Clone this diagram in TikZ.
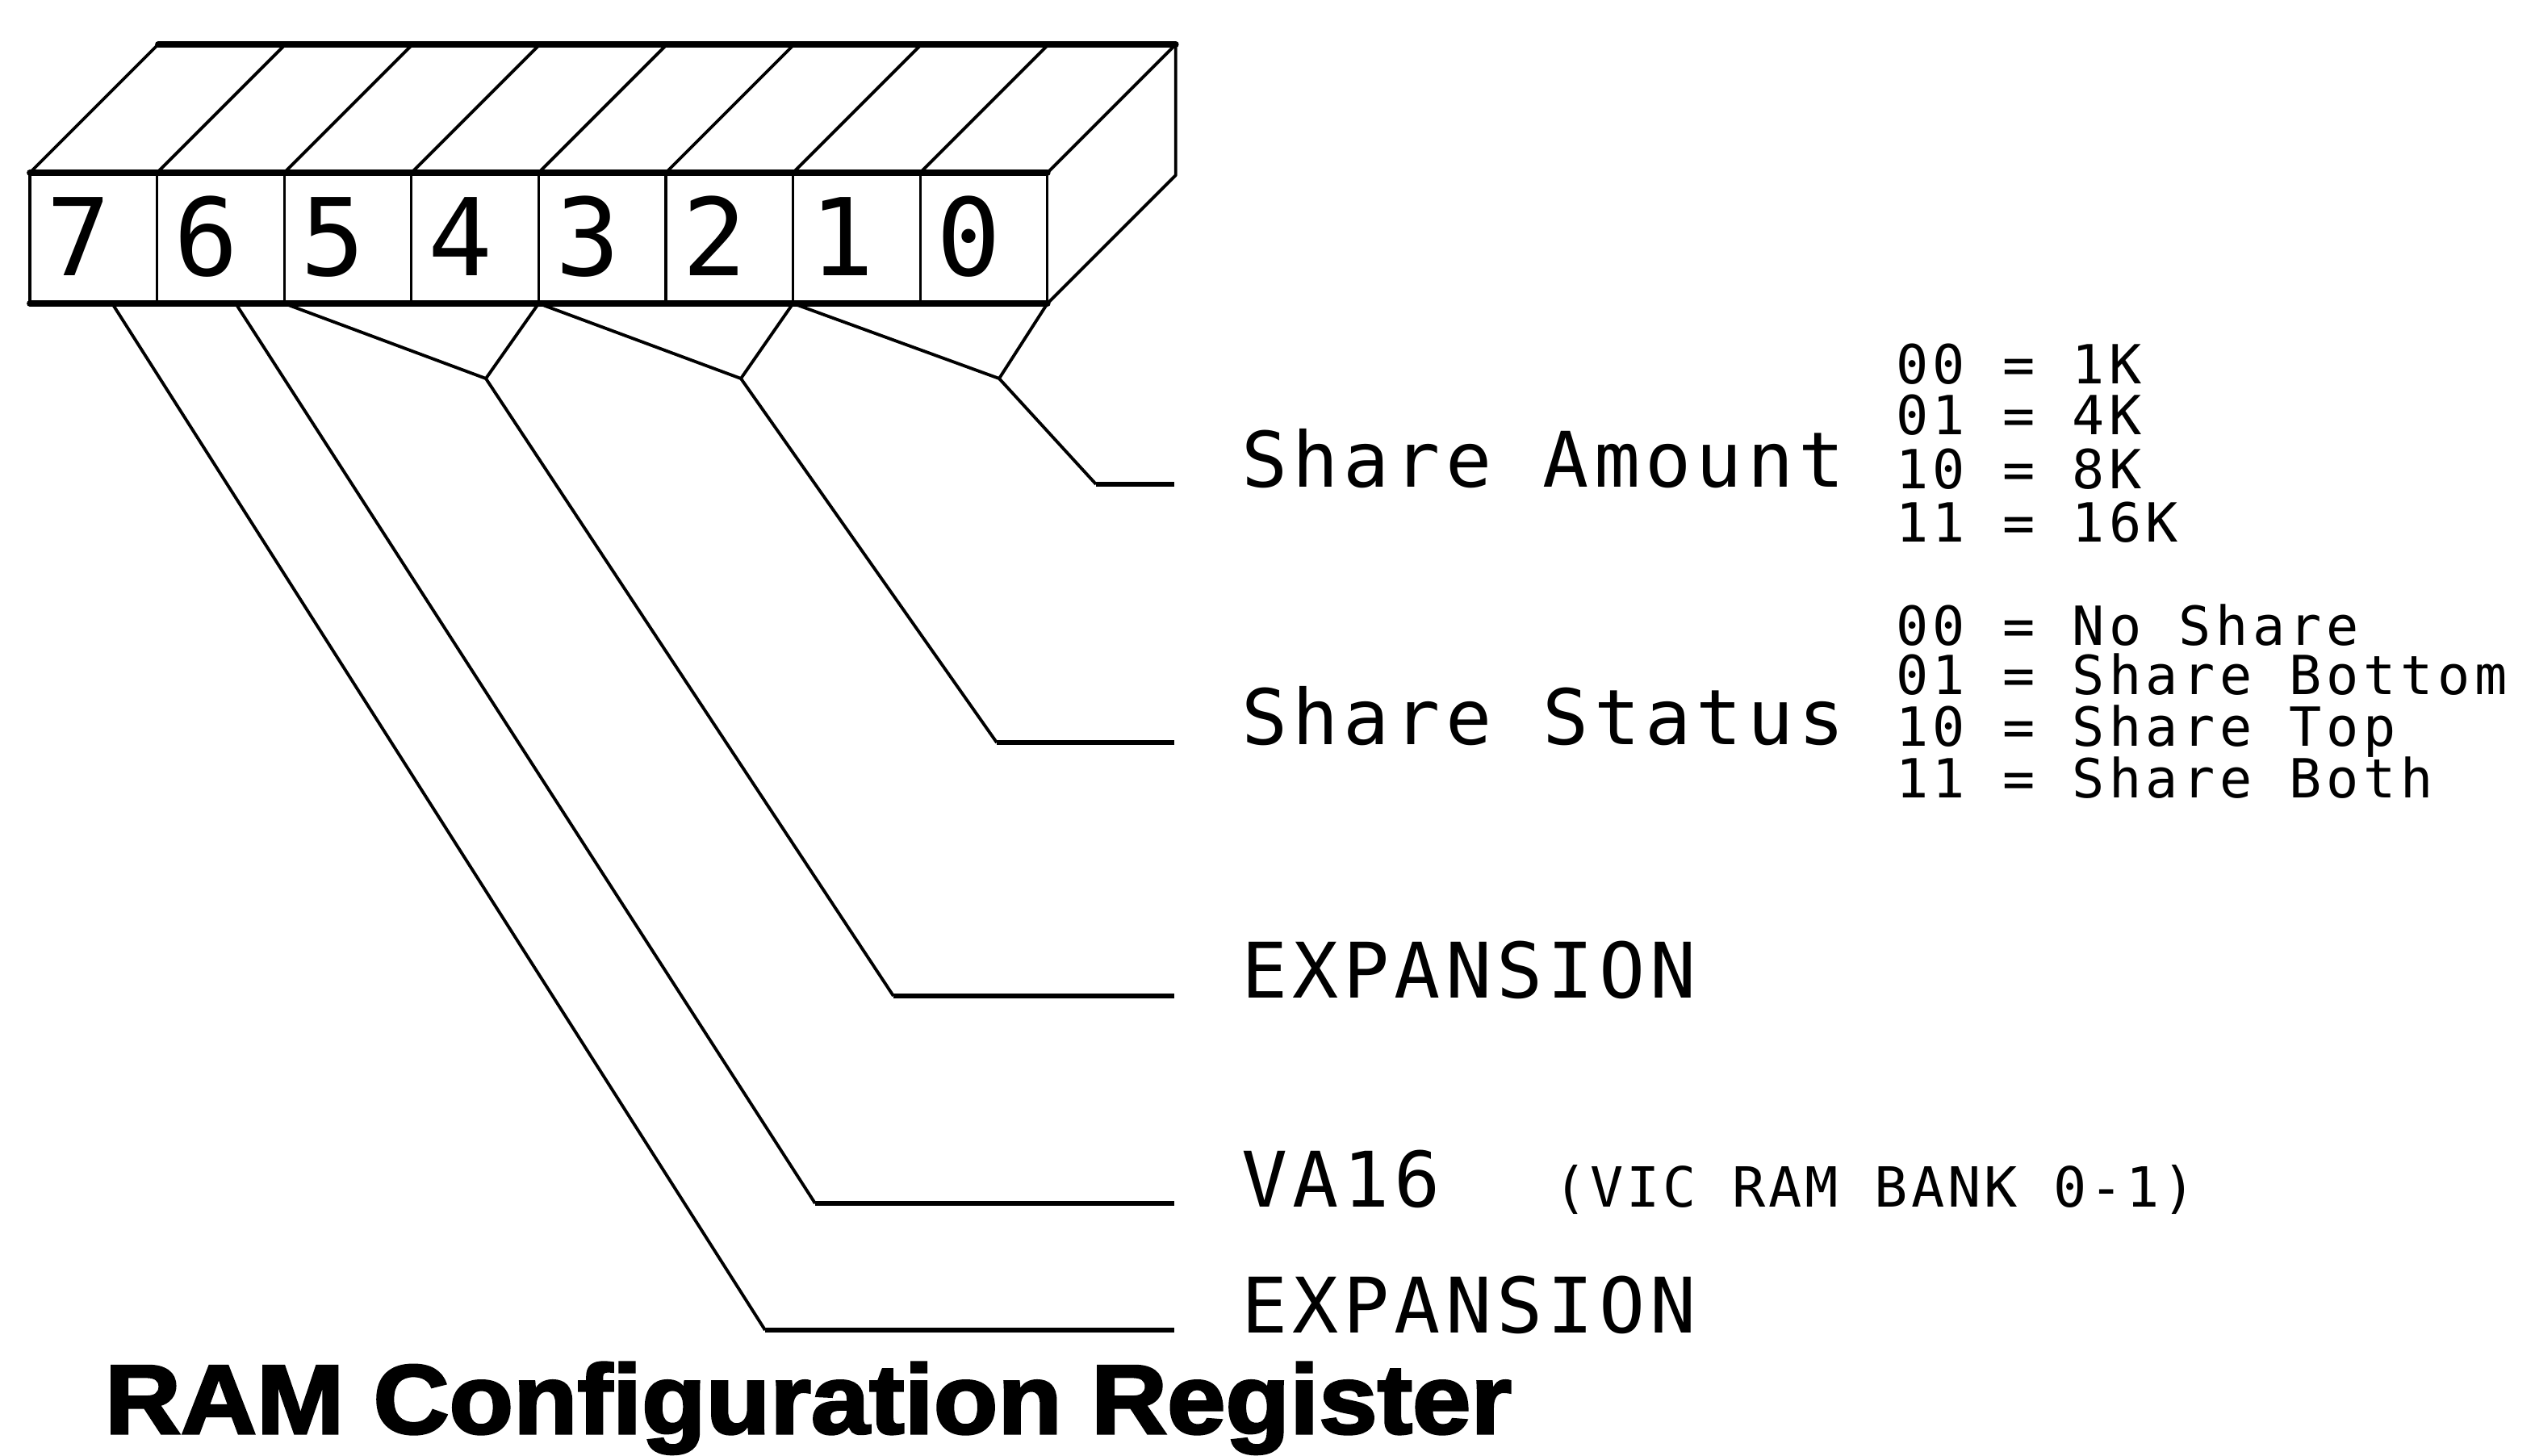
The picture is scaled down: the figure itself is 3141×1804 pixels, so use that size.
\documentclass[tikz,border=0pt]{standalone}
\usepackage{fontspec}
\newfontfamily\plotbig[LetterSpace=6.5]{DejaVu Sans Mono}
\newfontfamily\plotdig{DejaVu Sans Mono}
\newfontfamily\plotsmall[LetterSpace=8.5]{DejaVu Sans Mono}
\newfontfamily\plotvic[LetterSpace=5.5]{DejaVu Sans Mono}
\newfontfamily\titlefont[FakeBold=2.5]{Liberation Sans Bold}
\begin{document}
\begin{tikzpicture}[x=0.01cm,y=-0.01cm,
  every node/.style={inner sep=0pt,outer sep=0pt},
  edge/.style={line width=1.1pt,line cap=round,line join=round},
  vline/.style={line width=0.9pt},
  hedge/.style={line width=2.2pt,line cap=round},
  lead/.style={line width=1.1pt,line join=miter},
  hlead/.style={line width=1.6pt},
  big/.style={font=\plotbig\fontsize{27}{27}\selectfont,anchor=base west},
  small/.style={font=\plotsmall\fontsize{19}{19}\selectfont,anchor=base west},
  vic/.style={font=\plotvic\fontsize{19.5}{19.5}\selectfont,anchor=base west},
  digit/.style={font=\plotdig\fontsize{37.8}{37.8}\selectfont,anchor=base},
  titlestyle/.style={font=\titlefont\fontsize{34.6}{34.6}\selectfont,anchor=base west,xscale=1.07}
]
\useasboundingbox (0,0) rectangle (3141,1804);

% register box corners
\foreach \k in {0,...,8}{
  \coordinate (t\k) at ({37+157.6*\k},214);
  \coordinate (b\k) at ({37+157.6*\k},376);
  \coordinate (u\k) at ({196+157.6*\k},55);
}
\coordinate (ur) at (1456.8,217);

% top face and slanted edges
\draw[hedge] (u0) -- (u8);
\foreach \k in {0,...,8}{ \draw[edge] (t\k) -- (u\k); }
% front face
\draw[hedge] (t0) -- (t8);
\draw[hedge] (b0) -- (b8);
\foreach \k in {0,...,8}{ \draw[vline] (t\k) -- (b\k); }
% right face
\draw[edge] (u8) -- (ur) -- (b8);

% bit numbers
\foreach \d/\k in {7/0,6/1,5/2,4/3,3/4,2/5,1/6,0/7}{
  \node[digit] (d\d) at ({37+157.6*\k+78.8-18},342) {\d};
}

% leader points
\coordinate (s7) at (139,376);
\coordinate (s6) at (292,376);
\coordinate (j54) at (602,469);
\coordinate (j32) at (918,469);
\coordinate (j10) at (1238,469);
\coordinate (k7) at (948,1648);
\coordinate (k6) at (1010,1491);
\coordinate (k54) at (1107,1234);
\coordinate (k32) at (1235,920);
\coordinate (k10) at (1358,600);
\coordinate (e7) at (1455,1648);
\coordinate (e6) at (1455,1491);
\coordinate (e54) at (1455,1234);
\coordinate (e32) at (1455,920);
\coordinate (e10) at (1455,600);

\draw[lead] (s7) -- (k7);
\draw[hlead] (k7) -- (e7);
\draw[lead] (s6) -- (k6);
\draw[hlead] (k6) -- (e6);
\draw[lead] (b2) -- (j54) -- (b4);
\draw[lead] (j54) -- (k54);
\draw[hlead] (k54) -- (e54);
\draw[lead] (b4) -- (j32) -- (b6);
\draw[lead] (j32) -- (k32);
\draw[hlead] (k32) -- (e32);
\draw[lead] (b6) -- (j10) -- (b8);
\draw[lead] (j10) -- (k10);
\draw[hlead] (k10) -- (e10);

% labels
\node[big] (lamt) at (1538,604) {Share Amount};
\node[big] (lsts) at (1538,923) {Share Status};
\node[big] (lexp1) at (1538,1237) {EXPANSION};
\node[big] (lva) at (1538,1495) {VA16};
\node[vic] (lvic) at (1925,1495) {(VIC RAM BANK 0-1)};
\node[big] (lexp2) at (1538,1652) {EXPANSION};

% share amount codes
\node[small] (a0) at (2349,476) {00 = 1K};
\node[small] (a1) at (2349,539) {01 = 4K};
\node[small] (a2) at (2349,606) {10 = 8K};
\node[small] (a3) at (2349,672) {11 = 16K};
% share status codes
\node[small] (c0) at (2349,800) {00 = No Share};
\node[small] (c1) at (2349,861) {01 = Share Bottom};
\node[small] (c2) at (2349,925) {10 = Share Top};
\node[small] (c3) at (2349,989) {11 = Share Both};

% title
\node[titlestyle] (title) at (130,1776) {RAM Configuration Register};
\end{tikzpicture}
\end{document}
